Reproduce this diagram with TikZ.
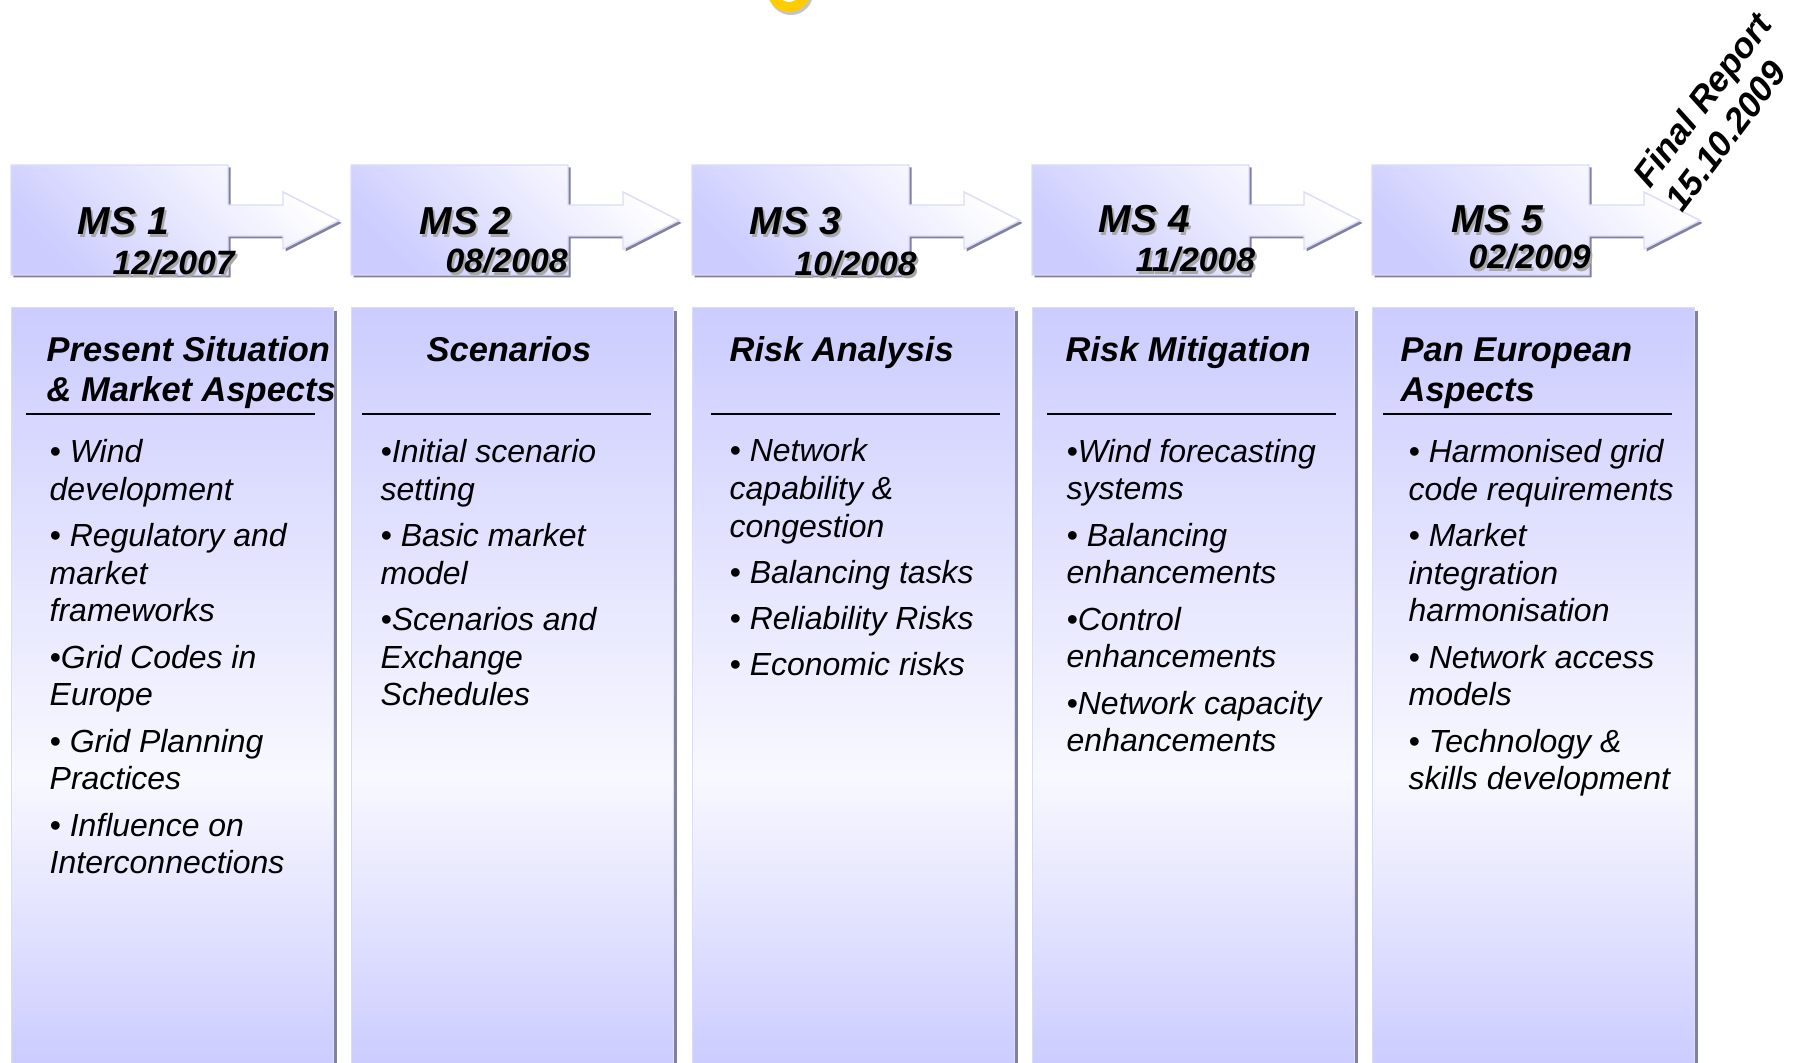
\documentclass[tikz,border=0pt]{standalone}
\usepackage{fontspec}
\setmainfont{Liberation Sans}
\usepackage{xcolor}
\usetikzlibrary{positioning,shadows}

\definecolor{lav}{HTML}{CCCCFF}
\definecolor{palelav}{HTML}{F8F8FF}
\definecolor{rimlav}{HTML}{DCDCF8}
\definecolor{shadowblue}{HTML}{80809F}
\definecolor{txtgray}{HTML}{A8A8A8}
\definecolor{ringyellow}{HTML}{FFCC00}
\definecolor{ringgray}{HTML}{C4C4C4}
\pgfdeclareverticalshading{panelfade}{100bp}{color(0bp)=(lav); color(25bp)=(lav); color(44bp)=(palelav); color(75bp)=(lav); color(100bp)=(lav)}
\newcommand{\shadowed}[1]{\makebox[0pt][l]{\hspace{0.6pt}\raisebox{-0.6pt}{\textcolor{txtgray}{#1}}}#1}

\begin{document}
\begin{tikzpicture}[
    panel/.style={shade, shading=panelfade, draw=rimlav, line width=0.4pt, anchor=north west, minimum width=3.22cm, minimum height=7.56cm, inner sep=0pt, drop shadow={shadow xshift=0.035cm, shadow yshift=-0.035cm, fill=shadowblue, opacity=1}},
    msbody/.style={draw=rimlav, line width=0.4pt, shading=axis, top color=white, bottom color=lav, shading angle=-45, drop shadow={shadow xshift=0.025cm, shadow yshift=-0.025cm, fill=shadowblue, opacity=1}},
    msarrow/.pic={\path[msbody] (0,0) -- (0,1.10) -- (2.17,1.10) -- (2.17,0.70) -- (2.72,0.70) -- (2.72,0.83) -- (3.28,0.545) -- (2.72,0.26) -- (2.72,0.39) -- (2.17,0.39) -- (2.17,0) -- cycle;},
    mslabel/.style={font=\fontsize{11.1}{13}\selectfont\bfseries\itshape, inner sep=0pt, anchor=base west},
    msdate/.style={font=\fontsize{9.6}{11}\selectfont\bfseries\itshape, inner sep=0pt, anchor=base west},
    paneltitle/.style={font=\fontsize{9.8}{11.5}\selectfont\bfseries\itshape, align=left, inner sep=0pt, anchor=base west},
    bullets/.style={font=\fontsize{9.1}{10.8}\selectfont\itshape, align=left, inner sep=0pt, anchor=base west},
    titlerule/.style={line width=0.5pt},
    finalnote/.style={font=\fontsize{10}{11.6}\selectfont\bfseries\itshape, align=left, inner sep=0pt, rotate=53}
]
    \path[use as bounding box, fill=white] (0,0) rectangle (18,10.63);

    % Ring at the top edge
    \draw[line width=0.10cm, ringgray] (7.91,10.70) circle (0.17);
    \draw[line width=0.10cm, ringyellow] (7.89,10.73) circle (0.17);

    % Milestones
    \pic at (0.11,7.88) {msarrow};
    \pic at (3.51,7.88) {msarrow};
    \pic at (6.92,7.88) {msarrow};
    \pic at (10.32,7.88) {msarrow};
    \pic at (13.72,7.88) {msarrow};

    \node[mslabel] (ms1) at (0.77,8.28) {\shadowed{MS 1}};
    \node[mslabel] (ms2) at (4.19,8.28) {\shadowed{MS 2}};
    \node[mslabel] (ms3) at (7.49,8.28) {\shadowed{MS 3}};
    \node[mslabel] (ms4) at (10.98,8.30) {\shadowed{MS 4}};
    \node[mslabel] (ms5) at (14.51,8.30) {\shadowed{MS 5}};

    \node[msdate] (d1) at (1.12,7.88) {\shadowed{12/2007}};
    \node[msdate] (d2) at (4.45,7.90) {\shadowed{08/2008}};
    \node[msdate] (d3) at (7.94,7.87) {\shadowed{10/2008}};
    \node[msdate] (d4) at (11.35,7.91) {\shadowed{11/2008}};
    \node[msdate] (d5) at (14.68,7.94) {\shadowed{02/2009}};

    \node[finalnote] (fr) at (17.18,9.51) {Final Report\\15.10.2009};

    % Work packages
    \node[panel] (pan1) at (0.11,7.56) {};
    \node[panel] (pan2) at (3.51,7.56) {};
    \node[panel] (pan3) at (6.92,7.56) {};
    \node[panel] (pan4) at (10.32,7.56) {};
    \node[panel] (pan5) at (13.72,7.56) {};

    % base anchor sits on the last line
    \node[paneltitle] (t1) at (0.46,6.61) {Present Situation\\\& Market Aspects};
    \node[paneltitle, anchor=base] (t2) at (5.09,7.01) {Scenarios};
    \node[paneltitle] (t3) at (7.29,7.01) {Risk Analysis};
    \node[paneltitle] (t4) at (10.65,7.01) {Risk Mitigation};
    \node[paneltitle] (t5) at (14.00,6.61) {Pan European\\Aspects};

    \draw[titlerule] (0.26,6.49) -- ++(2.89,0);
    \draw[titlerule] (3.62,6.49) -- ++(2.89,0);
    \draw[titlerule] (7.11,6.49) -- ++(2.89,0);
    \draw[titlerule] (10.47,6.49) -- ++(2.89,0);
    \draw[titlerule] (13.83,6.49) -- ++(2.89,0);

    \node[bullets] (b1) at (0.49,1.89) {• Wind\\development\\[2.3pt]• Regulatory and\\market\\frameworks\\[2.3pt]•Grid Codes in\\Europe\\[2.3pt]• Grid Planning\\Practices\\[2.3pt]• Influence on\\Interconnections};
    \node[bullets] (b2) at (3.80,3.57) {•Initial scenario\\setting\\[2.3pt]• Basic market\\model\\[2.3pt]•Scenarios and\\Exchange\\Schedules};
    \node[bullets] (b3) at (7.29,3.87) {• Network\\capability \&\\congestion\\[2.3pt]• Balancing tasks\\[2.3pt]• Reliability Risks\\[2.3pt]• Economic risks};
    \node[bullets] (b4) at (10.66,3.11) {•Wind forecasting\\systems\\[2.3pt]• Balancing\\enhancements\\[2.3pt]•Control\\enhancements\\[2.3pt]•Network capacity\\enhancements};
    \node[bullets] (b5) at (14.08,2.73) {• Harmonised grid\\code requirements\\[2.3pt]• Market\\integration\\harmonisation\\[2.3pt]• Network access\\models\\[2.3pt]• Technology \&\\skills development};
\end{tikzpicture}
\end{document}
